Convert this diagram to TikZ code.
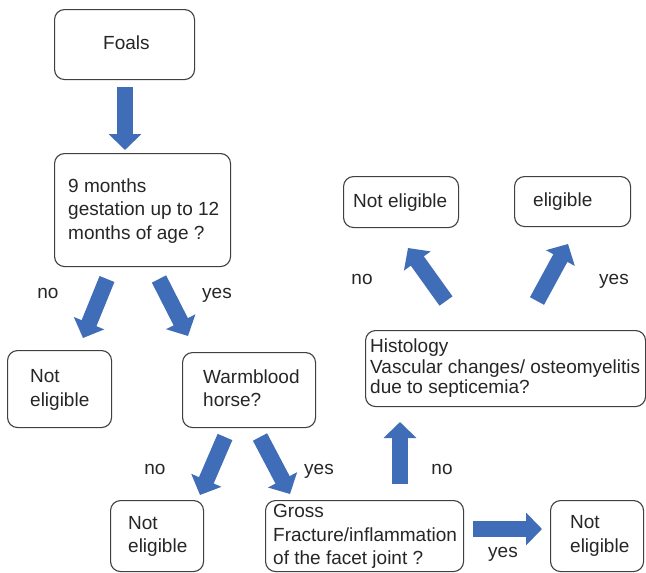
\documentclass[tikz,border=0pt]{standalone}
\usepackage{fontspec}
\setmainfont{Liberation Sans}
\usetikzlibrary{arrows.meta}
\definecolor{arrowblue}{HTML}{3F6DB7}
\definecolor{boxline}{HTML}{404040}
\begin{document}
\begin{tikzpicture}[x=1pt,y=-1pt,
  box/.style={draw=boxline, line width=1.1pt, rounded corners=10pt, fill=white, inner sep=0pt, anchor=north west},
  txt/.style={font=\fontsize{19}{23.5}\selectfont, align=left, inner sep=0pt, text=black!85, anchor=west},
  lbl/.style={font=\fontsize{19}{23}\selectfont, inner sep=0pt, text=black!85, anchor=mid},
  blockarrow/.style={draw=arrowblue, line width=16pt, -{Triangle[length=16pt,width=32pt]}}]
\useasboundingbox (0,0) rectangle (646,573);

% boxes
\node[box, minimum width=140pt, minimum height=70pt] (foals) at (54,9) {};
\node[box, minimum width=176pt, minimum height=113pt] (age) at (54,153) {};
\node[box, minimum width=104pt, minimum height=77pt] (ne1) at (7,350) {};
\node[box, minimum width=133pt, minimum height=75pt] (warm) at (182,352) {};
\node[box, minimum width=93pt, minimum height=71pt] (ne2) at (110,500) {};
\node[box, minimum width=198pt, minimum height=71pt] (gross) at (265,500) {};
\node[box, minimum width=93pt, minimum height=71pt] (ne3) at (550,500) {};
\node[box, minimum width=280pt, minimum height=76pt] (histo) at (365,330) {};
\node[box, minimum width=115pt, minimum height=51pt] (ne4) at (343,176) {};
\node[box, minimum width=116pt, minimum height=50pt] (elig) at (514,176) {};

% texts
\node[txt] (foalst) at (103,43) {Foals};
\node[txt] (aget) at (68,211) {9 months\\gestation up to 12\\months of age ?};
\node[txt] (ne1t) at (30,390) {Not\\eligible};
\node[txt] (warmt) at (203,388) {Warmblood\\horse?};
\node[txt] (ne2t) at (128,536.5) {Not\\eligible};
\node[txt] (grosst) at (273,536.5) {Gross\\Fracture/inflammation\\of the facet joint ?};
\node[txt] (ne3t) at (570,536) {Not\\eligible};
\node[txt, font=\fontsize{19}{20.5}\selectfont] (histot) at (370,368.5) {Histology\\Vascular changes/ osteomyelitis\\due to septicemia?};
\node[txt] (ne4t) at (353,203) {Not eligible};
\node[txt] (eligt) at (533,202) {eligible};

% arrow end points
\coordinate (a1s) at (125,87);  \coordinate (a1e) at (125,150);
\coordinate (a2s) at (107,279); \coordinate (a2e) at (83,338);
\coordinate (a3s) at (159,279); \coordinate (a3e) at (188,336);
\coordinate (a4s) at (225,437); \coordinate (a4e) at (200,495);
\coordinate (a5s) at (260,437); \coordinate (a5e) at (290,494);
\coordinate (a6s) at (400,484); \coordinate (a6e) at (400,422);
\coordinate (a7s) at (473,529); \coordinate (a7e) at (542,529);
\coordinate (a8s) at (446,301); \coordinate (a8e) at (408,248);
\coordinate (a9s) at (537,301); \coordinate (a9e) at (568,244);

\draw[blockarrow] (a1s) -- (a1e);
\draw[blockarrow] (a2s) -- (a2e);
\draw[blockarrow] (a3s) -- (a3e);
\draw[blockarrow] (a4s) -- (a4e);
\draw[blockarrow] (a5s) -- (a5e);
\draw[blockarrow] (a6s) -- (a6e);
\draw[blockarrow] (a7s) -- (a7e);
\draw[blockarrow] (a8s) -- (a8e);
\draw[blockarrow] (a9s) -- (a9e);

% labels
\node[lbl] (l1) at (48,296) {no};
\node[lbl] (l2) at (217,296) {yes};
\node[lbl] (l3) at (155,472) {no};
\node[lbl] (l4) at (319,472) {yes};
\node[lbl] (l5) at (442,472) {no};
\node[lbl] (l6) at (503,555) {yes};
\node[lbl] (l7) at (362,282) {no};
\node[lbl] (l8) at (614,282) {yes};
\end{tikzpicture}
\end{document}
